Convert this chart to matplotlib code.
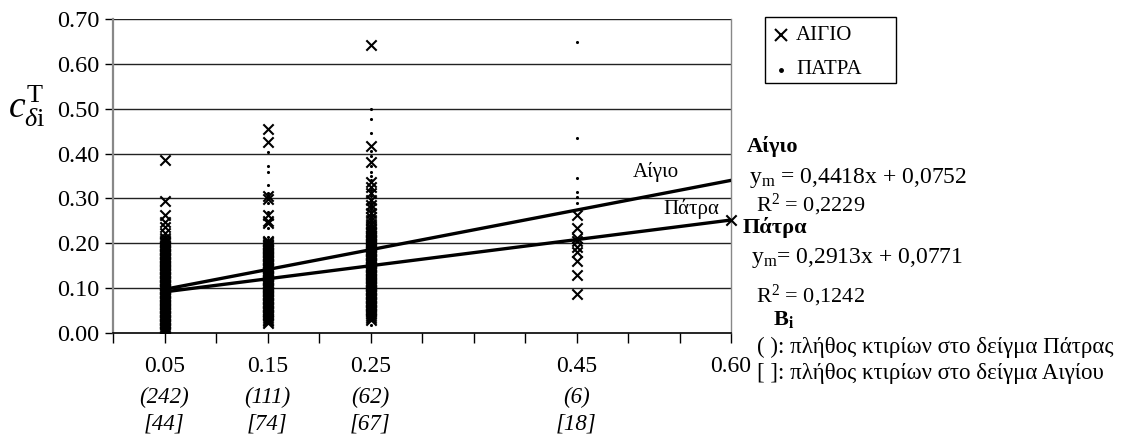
import matplotlib
matplotlib.use("Agg")
import matplotlib.pyplot as plt
from matplotlib.patches import Rectangle

plt.rcParams['font.family'] = ['Liberation Serif', 'DejaVu Serif']
plt.rcParams['mathtext.fontset'] = 'custom'
plt.rcParams['mathtext.rm'] = 'Liberation Serif'
plt.rcParams['mathtext.it'] = 'Liberation Serif:italic'
plt.rcParams['mathtext.bf'] = 'Liberation Serif:bold'

# ---------------- data ----------------
x_ticks = [0.05, 0.15, 0.25, 0.45, 0.60]
x_tick_labels = ["0.05", "0.15", "0.25", "0.45", "0.60"]
patra_counts = ["(242)", "(111)", "(62)", "(6)"]
aigio_counts = ["[44]", "[74]", "[67]", "[18]"]

aigio_005 = [0.385, 0.295, 0.262, 0.248, 0.237, 0.222, 0.212, 0.207, 0.203, 0.200,
             0.197, 0.194, 0.191, 0.188, 0.185, 0.182, 0.179, 0.176, 0.173, 0.170,
             0.167, 0.164, 0.161, 0.158, 0.155, 0.152, 0.149, 0.146, 0.143, 0.140,
             0.137, 0.134, 0.131, 0.128, 0.125, 0.122, 0.119, 0.116, 0.113, 0.110,
             0.107, 0.104, 0.101, 0.098, 0.095, 0.092, 0.089, 0.086, 0.083, 0.080,
             0.077, 0.074, 0.071, 0.068, 0.065, 0.062, 0.059, 0.056, 0.053, 0.050,
             0.047, 0.044, 0.041, 0.038, 0.035, 0.032, 0.029, 0.026, 0.023, 0.020,
             0.017, 0.014, 0.011, 0.008, 0.005, 0.002]
aigio_015 = [0.455, 0.426, 0.305, 0.298, 0.263, 0.250, 0.245, 0.205, 0.202, 0.199,
             0.196, 0.193, 0.190, 0.187, 0.184, 0.181, 0.178, 0.175, 0.172, 0.169,
             0.166, 0.163, 0.160, 0.157, 0.154, 0.151, 0.148, 0.145, 0.142, 0.139,
             0.136, 0.133, 0.130, 0.127, 0.124, 0.121, 0.118, 0.115, 0.112, 0.109,
             0.106, 0.103, 0.100, 0.097, 0.094, 0.091, 0.088, 0.085, 0.082, 0.079,
             0.076, 0.073, 0.070, 0.067, 0.064, 0.061, 0.058, 0.055, 0.052, 0.049,
             0.046, 0.043, 0.040, 0.037, 0.034, 0.030, 0.026, 0.022]
aigio_025 = [0.642, 0.417, 0.382, 0.337, 0.326, 0.311, 0.296, 0.285, 0.278, 0.267,
             0.259, 0.252, 0.244, 0.237, 0.231, 0.228, 0.225, 0.222, 0.219, 0.216,
             0.213, 0.210, 0.207, 0.204, 0.201, 0.198, 0.195, 0.192, 0.189, 0.186,
             0.183, 0.180, 0.177, 0.174, 0.171, 0.168, 0.165, 0.162, 0.159, 0.156,
             0.153, 0.150, 0.147, 0.144, 0.141, 0.138, 0.135, 0.132, 0.129, 0.126,
             0.123, 0.120, 0.117, 0.114, 0.111, 0.108, 0.105, 0.102, 0.099, 0.096,
             0.093, 0.090, 0.087, 0.084, 0.081, 0.078, 0.075, 0.072, 0.069, 0.066,
             0.063, 0.060, 0.057, 0.054, 0.051, 0.048, 0.045, 0.042, 0.038, 0.034,
             0.029]
aigio_045 = [0.263, 0.233, 0.212, 0.205, 0.192, 0.181, 0.160, 0.129, 0.088]

patra_005 = [0.222, 0.216, 0.210, 0.204, 0.198, 0.190, 0.180, 0.170, 0.160, 0.150,
             0.140, 0.130, 0.120, 0.110, 0.100, 0.090, 0.080, 0.070, 0.060, 0.050,
             0.040, 0.030, 0.020, 0.010, 0.002]
patra_015 = [0.404, 0.372, 0.360, 0.330, 0.312, 0.290, 0.270, 0.235, 0.215, 0.208,
             0.200, 0.190, 0.180, 0.170, 0.160, 0.150, 0.140, 0.130, 0.120, 0.110,
             0.100, 0.090, 0.080, 0.070, 0.060, 0.050, 0.040, 0.032]
patra_025 = [0.499, 0.476, 0.445, 0.405, 0.395, 0.372, 0.360, 0.350, 0.340, 0.318,
             0.305, 0.290, 0.272, 0.260, 0.245, 0.232, 0.220, 0.205, 0.190, 0.175,
             0.160, 0.145, 0.130, 0.115, 0.100, 0.085, 0.070, 0.055, 0.040, 0.030,
             0.018]
patra_045 = [0.649, 0.435, 0.345, 0.315, 0.304, 0.289]

aigio_slope, aigio_icpt = 0.4418, 0.0752
patra_slope, patra_icpt = 0.2913, 0.0771
fit_x = [0.05, 0.60]

# ---------------- figure ----------------
fig = plt.figure(figsize=(11.36, 4.41), dpi=100)
ax = fig.add_axes([113/1136, 1-333/441, (731-113)/1136, (333-19)/441])

ax.set_xlim(0, 0.60)
ax.set_ylim(0, 0.70)

for gy in [0.1, 0.2, 0.3, 0.4, 0.5, 0.6, 0.7]:
    ax.axhline(gy, color='#222222', lw=1.0, zorder=1)

mk = dict(marker='x', s=55, color='black', linewidths=1.5, zorder=3)
dt = dict(marker='o', s=5, color='black', linewidths=0, zorder=4)

for xv, vals in [(0.05, aigio_005), (0.15, aigio_015), (0.25, aigio_025), (0.45, aigio_045)]:
    ax.scatter([xv] * len(vals), vals, **mk)
for xv, vals in [(0.05, patra_005), (0.15, patra_015), (0.25, patra_025), (0.45, patra_045)]:
    ax.scatter([xv] * len(vals), vals, **dt)

ax.plot(fit_x, [aigio_slope * v + aigio_icpt for v in fit_x], color='black', lw=2.4, zorder=5, solid_capstyle='round')
ax.plot(fit_x, [patra_slope * v + patra_icpt for v in fit_x], color='black', lw=2.4, zorder=5, solid_capstyle='round')
ax.scatter([0.60], [patra_slope * 0.60 + patra_icpt], marker='x', s=55, color='black',
           linewidths=1.5, zorder=6, clip_on=False)

ax.text(0.505, 0.359, "Αίγιο", fontsize=15, ha='left', va='center')
ax.text(0.589, 0.276, "Πάτρα", fontsize=15, ha='right', va='center')

for s in ['left', 'right']:
    ax.spines[s].set_color('#888888')
ax.spines['left'].set_linewidth(1.6)
ax.spines['right'].set_linewidth(1.0)
ax.spines['top'].set_visible(False)
ax.spines['bottom'].set_color('black')
ax.spines['bottom'].set_linewidth(1.2)

ax.set_yticks([0.0, 0.1, 0.2, 0.3, 0.4, 0.5, 0.6, 0.7])
ax.set_yticklabels(["0.00", "0.10", "0.20", "0.30", "0.40", "0.50", "0.60", "0.70"], fontsize=17.5)
ax.set_xticks([0.0, 0.05, 0.10, 0.15, 0.20, 0.25, 0.30, 0.35, 0.40, 0.45, 0.50, 0.55, 0.60])
ax.set_xticklabels([])
ax.tick_params(axis='x', direction='out', length=7, width=1.0, color='black')
ax.tick_params(axis='y', direction='out', length=6, width=1.0, color='black', pad=4)

trans = ax.get_xaxis_transform()
for xv, lab in zip(x_ticks, x_tick_labels):
    ax.text(xv, -0.108, lab, transform=trans, ha='center', va='center', fontsize=17)
for xv, lab in zip(x_ticks[:4], patra_counts):
    ax.text(xv, -0.206, lab, transform=trans, ha='center', va='center', fontsize=16.5, style='italic')
for xv, lab in zip(x_ticks[:4], aigio_counts):
    ax.text(xv, -0.289, lab, transform=trans, ha='center', va='center', fontsize=16.5, style='italic')

fig.text(27/1136, 1-106/441, r'$c^{\mathrm{T}}_{\delta\mathrm{i}}$', fontsize=27, ha='center', va='center')

fig.patches.append(Rectangle((765/1136, 1-83/441), (896-765)/1136, (83-17)/441,
                             transform=fig.transFigure, fill=False, edgecolor='black', lw=1.0))
fig.lines.append(plt.Line2D([781/1136], [1-35/441], marker='x', markersize=8, mew=1.5,
                            color='black', linestyle='none', transform=fig.transFigure))
fig.lines.append(plt.Line2D([781/1136], [1-70/441], marker='o', markersize=2.5,
                            color='black', linestyle='none', transform=fig.transFigure))
fig.text(796/1136, 1-36/441, "ΑΙΓΙΟ", fontsize=15, ha='left', va='center')
fig.text(796/1136, 1-70/441, "ΠΑΤΡΑ", fontsize=15, ha='left', va='center')

fig.text(747/1136, 1-147/441, "Αίγιο", fontsize=16, fontweight='bold', ha='left', va='center')
fig.text(749/1136, 1-178/441, r"y$_\mathrm{m}$ = 0,4418x + 0,0752", fontsize=17, ha='left', va='center')
fig.text(756/1136, 1-205/441, r"R$^2$ = 0,2229", fontsize=16, ha='left', va='center')
fig.text(743/1136, 1-227/441, "Πάτρα", fontsize=16, fontweight='bold', ha='left', va='center')
fig.text(751/1136, 1-258/441, r"y$_\mathrm{m}$= 0,2913x + 0,0771", fontsize=17, ha='left', va='center')
fig.text(756/1136, 1-296/441, r"R$^2$ = 0,1242", fontsize=16, ha='left', va='center')
fig.text(773/1136, 1-320/441, r"$\mathbf{B_i}$", fontsize=16, ha='left', va='center')
fig.text(757/1136, 1-347/441, "( ): πλήθος κτιρίων στο δείγμα Πάτρας", fontsize=16.5, ha='left', va='center')
fig.text(757/1136, 1-373/441, "[ ]: πλήθος κτιρίων στο δείγμα Αιγίου", fontsize=16.5, ha='left', va='center')

fig.savefig("out.png", dpi=100)
